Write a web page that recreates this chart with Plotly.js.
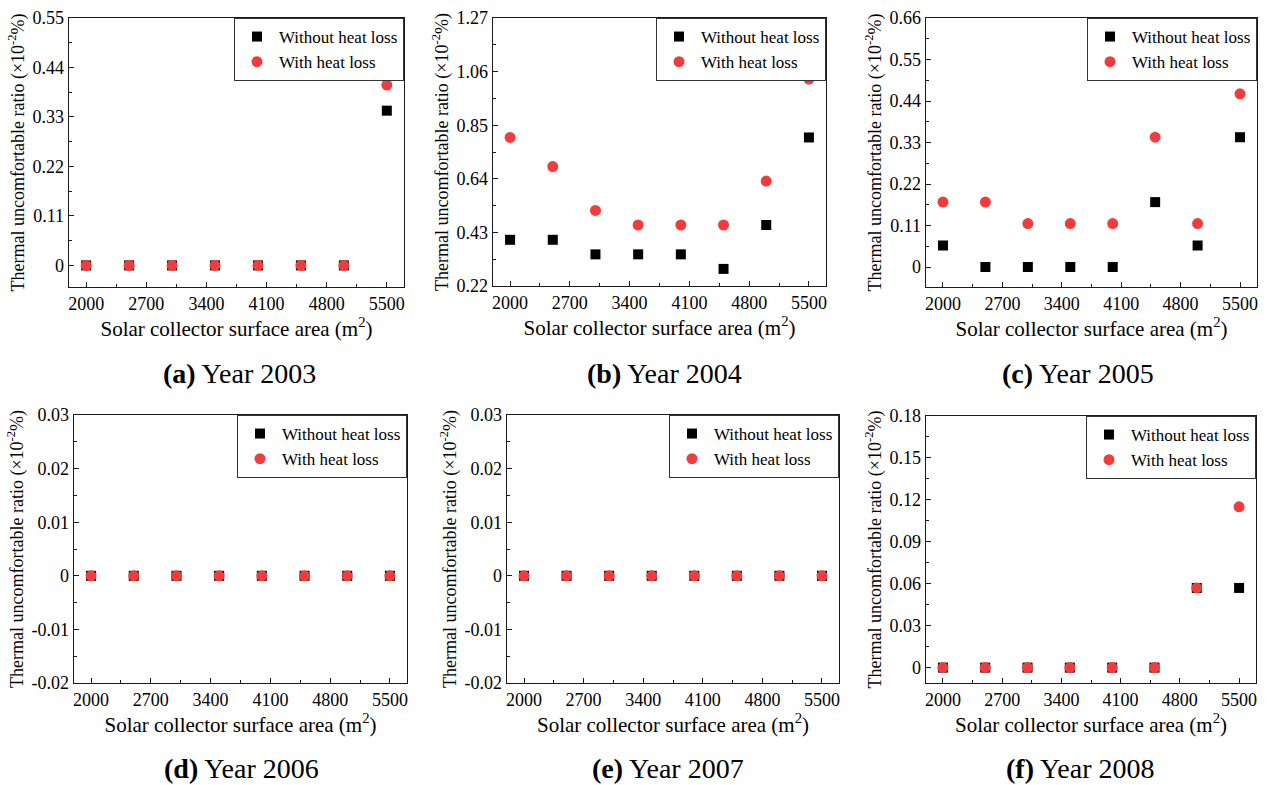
<!DOCTYPE html>
<html>
<head>
<meta charset="utf-8">
<script src="https://cdn.plot.ly/plotly-3.0.1.min.js"></script>
<style>html,body{margin:0;padding:0;background:#fff;}#chart{width:1268px;height:785px;}</style>
</head>
<body>
<div id="chart"></div>
<script>
// ---------- data ----------
const areas = [2000, 2500, 3000, 3500, 4000, 4500, 5000, 5500];
const seriesNames = ['Without heat loss', 'With heat loss'];

const without2003 = [0, 0, 0, 0, 0, 0, 0, 0.344];
const with2003    = [0, 0, 0, 0, 0, 0, 0, 0.401];
const without2004 = [0.401, 0.401, 0.344, 0.344, 0.344, 0.287, 0.459, 0.802];
const with2004    = [0.802, 0.688, 0.516, 0.459, 0.459, 0.459, 0.631, 1.031];
const without2005 = [0.057, 0, 0, 0, 0, 0.172, 0.057, 0.344];
const with2005    = [0.172, 0.172, 0.115, 0.115, 0.115, 0.344, 0.115, 0.459];
const without2006 = [0, 0, 0, 0, 0, 0, 0, 0];
const with2006    = [0, 0, 0, 0, 0, 0, 0, 0];
const without2007 = [0, 0, 0, 0, 0, 0, 0, 0];
const with2007    = [0, 0, 0, 0, 0, 0, 0, 0];
const without2008 = [0, 0, 0, 0, 0, 0, 0.057, 0.057];
const with2008    = [0, 0, 0, 0, 0, 0, 0.057, 0.115];

const xTickVals = [2000, 2700, 3400, 4100, 4800, 5500];
const xTickText = ['2000', '2700', '3400', '4100', '4800', '5500'];

const yTickVals2003 = [0, 0.11, 0.22, 0.33, 0.44, 0.55];
const yTickText2003 = ['0', '0.11', '0.22', '0.33', '0.44', '0.55'];
const yTickVals2004 = [0.22, 0.43, 0.64, 0.85, 1.06, 1.27];
const yTickText2004 = ['0.22', '0.43', '0.64', '0.85', '1.06', '1.27'];
const yTickVals2005 = [0, 0.11, 0.22, 0.33, 0.44, 0.55, 0.66];
const yTickText2005 = ['0', '0.11', '0.22', '0.33', '0.44', '0.55', '0.66'];
const yTickVals2006 = [-0.02, -0.01, 0, 0.01, 0.02, 0.03];
const yTickText2006 = ['-0.02', '-0.01', '0', '0.01', '0.02', '0.03'];
const yTickVals2007 = [-0.02, -0.01, 0, 0.01, 0.02, 0.03];
const yTickText2007 = ['-0.02', '-0.01', '0', '0.01', '0.02', '0.03'];
const yTickVals2008 = [0, 0.03, 0.06, 0.09, 0.12, 0.15, 0.18];
const yTickText2008 = ['0', '0.03', '0.06', '0.09', '0.12', '0.15', '0.18'];

const captionLetters = ['(a)', '(b)', '(c)', '(d)', '(e)', '(f)'];
const captionYears = ['Year 2003', 'Year 2004', 'Year 2005', 'Year 2006', 'Year 2007', 'Year 2008'];
const xTitleText = 'Solar collector surface area (m<sup>2</sup>)';
const yTitleText = 'Thermal uncomfortable ratio (×10<sup>-2</sup>%)';

// ---------- layout helpers ----------
const W = 1268, H = 785;
const FONT = '"Liberation Serif", "Times New Roman", serif';

const panels = [
  {wo: without2003, wi: with2003, tv: yTickVals2003, tt: yTickText2003, yr: [-0.048, 0.55], ymin: 0.055,
   box: [69, 404, 18, 287], cap: 239},
  {wo: without2004, wi: with2004, tv: yTickVals2004, tt: yTickText2004, yr: [0.22, 1.27], ymin: 0.105,
   box: [493, 826, 18, 286], cap: 664},
  {wo: without2005, wi: with2005, tv: yTickVals2005, tt: yTickText2005, yr: [-0.053, 0.66], ymin: 0.055,
   box: [926, 1257, 18, 287], cap: 1078},
  {wo: without2006, wi: with2006, tv: yTickVals2006, tt: yTickText2006, yr: [-0.02, 0.03], ymin: 0.005,
   box: [74, 407, 415, 683], cap: 241},
  {wo: without2007, wi: with2007, tv: yTickVals2007, tt: yTickText2007, yr: [-0.02, 0.03], ymin: 0.005,
   box: [507, 839, 415, 683], cap: 668},
  {wo: without2008, wi: with2008, tv: yTickVals2008, tt: yTickText2008, yr: [-0.011, 0.18], ymin: 0.015,
   box: [926, 1256, 416, 683], cap: 1080}
];

const traces = [];
const layout = {
  width: W, height: H,
  margin: {l: 0, r: 0, t: 0, b: 0},
  paper_bgcolor: '#fff', plot_bgcolor: '#fff',
  font: {family: FONT, size: 18, color: '#000'},
  annotations: [],
  showlegend: true
};

panels.forEach((p, i) => {
  const n = i + 1;
  const xa = n === 1 ? 'x' : 'x' + n;
  const ya = n === 1 ? 'y' : 'y' + n;
  const lg = n === 1 ? 'legend' : 'legend' + n;
  const [l, r, t, b] = p.box;

  traces.push({
    type: 'scatter', mode: 'markers', x: areas, y: p.wo, name: seriesNames[0],
    xaxis: xa, yaxis: ya, legend: lg, cliponaxis: false,
    marker: {symbol: 'square', size: 10, color: '#000'}
  });
  traces.push({
    type: 'scatter', mode: 'markers', x: areas, y: p.wi, name: seriesNames[1],
    xaxis: xa, yaxis: ya, legend: lg, cliponaxis: false,
    marker: {symbol: 'circle', size: 11, color: '#F03C3C'}
  });

  const axisCommon = {
    showline: true, linecolor: '#1a1a1a', linewidth: 1.3, mirror: true,
    ticks: 'inside', ticklen: 5, tickwidth: 1, tickcolor: '#1a1a1a',
    showgrid: false, zeroline: false, automargin: false,
    tickfont: {family: FONT, size: 18, color: '#000'}
  };

  layout['xaxis' + (n === 1 ? '' : n)] = Object.assign({}, axisCommon, {
    domain: [l / W, r / W], anchor: ya, range: [1800, 5700],
    tickmode: 'array', tickvals: xTickVals, ticktext: xTickText,
    minor: {tickmode: 'linear', tick0: 2000, dtick: 350, ticks: 'inside', ticklen: 3, tickcolor: '#1a1a1a', showgrid: false},
    title: {text: xTitleText, font: {family: FONT, size: 21, color: '#000'}, standoff: 4}
  });
  layout['yaxis' + (n === 1 ? '' : n)] = Object.assign({}, axisCommon, {
    domain: [1 - b / H, 1 - t / H], anchor: xa, range: p.yr,
    tickmode: 'array', tickvals: p.tv, ticktext: p.tt,
    minor: {tickmode: 'linear', tick0: p.tv[0], dtick: p.ymin, ticks: 'inside', ticklen: 3, tickcolor: '#1a1a1a', showgrid: false},
    title: {text: yTitleText, font: {family: FONT, size: 18, color: '#000'}, standoff: 3}
  });

  layout[lg] = {
    x: r / W, xanchor: 'right', y: 1 - t / H, yanchor: 'top',
    bgcolor: '#fff', bordercolor: '#333', borderwidth: 1,
    font: {family: FONT, size: 17, color: '#000'},
    itemwidth: 34, tracegroupgap: 0
  };

  const rowTop = i < 3;
  // caption
  layout.annotations.push({
    xref: 'paper', yref: 'paper', x: p.cap / W, y: 1 - (rowTop ? 373 : 768) / H,
    xanchor: 'center', yanchor: 'middle', showarrow: false,
    text: '<b>' + captionLetters[i] + '</b> ' + captionYears[i],
    font: {family: FONT, size: 28, color: '#000'}
  });
});

Plotly.newPlot('chart', traces, layout, {displayModeBar: false, staticPlot: true});
</script>
</body>
</html>
